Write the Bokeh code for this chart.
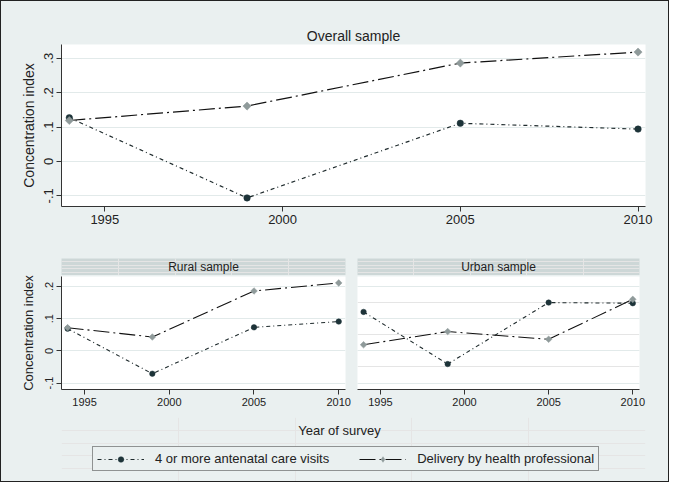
import numpy as np
from bokeh.plotting import figure
from bokeh.models import Range1d, FixedTicker, Legend, LegendItem, Label, Grid
from bokeh.layouts import column, row
from bokeh.embed import file_html
from bokeh.resources import INLINE

# ---- data ----
years = [1994, 1999, 2005, 2010]
overall_anc = [0.127, -0.106, 0.111, 0.094]
overall_delivery = [0.119, 0.161, 0.286, 0.318]
rural_anc = [0.069, -0.071, 0.073, 0.091]
rural_delivery = [0.072, 0.043, 0.186, 0.211]
urban_anc = [0.121, -0.041, 0.150, 0.148]
urban_delivery = [0.019, 0.060, 0.036, 0.160]

x_ticks = [1995, 2000, 2005, 2010]
y_ticks_top = [-0.1, 0, 0.1, 0.2, 0.3]
y_labels_top = ["-.1", "0", ".1", ".2", ".3"]
y_ticks_bottom = [-0.1, 0, 0.1, 0.2]
y_labels_bottom = ["-.1", "0", ".1", ".2"]

series_names = ["4 or more antenatal care visits", "Delivery by health professional"]
panel_titles = ["Overall sample", "Rural sample", "Urban sample"]
x_title = "Year of survey"
y_title = "Concentration index"

# ---- styles ----
FONT = "Liberation Sans"
BG = "#eaf0f0"
STRIP = "#cdd7d7"
GRID = "#e2eaea"
AXIS = "#333333"
ANC_LINE = "#1f2b2d"
ANC_MARK = "#1d3338"
DEL_LINE = "#111111"
DEL_MARK = "#8f9a9a"
ANC_DASH = "4 3 1 3"
DEL_DASH = "16 4 2 4"
BOX_STYLE = {"background-color": BG}


def base_style(p, tick_size, label_size, ylabels=None, yticks=None):
    p.background_fill_color = "white"
    p.border_fill_color = BG
    p.outline_line_color = None
    p.xgrid.visible = False
    for ax in p.xaxis:
        ax.ticker = FixedTicker(ticks=x_ticks)
        ax.major_label_text_font = FONT
        ax.major_label_text_font_size = tick_size
        ax.major_label_text_color = "#222222"
        ax.axis_line_color = AXIS
        ax.major_tick_line_color = AXIS
        ax.major_tick_out = 5
        ax.major_tick_in = 0
        ax.minor_tick_line_color = None
        ax.major_label_standoff = 3
    for ax in p.yaxis:
        ax.ticker = FixedTicker(ticks=yticks)
        ax.major_label_overrides = dict(zip(yticks, ylabels))
        ax.major_label_orientation = "vertical"
        ax.major_label_text_font = FONT
        ax.major_label_text_font_size = tick_size
        ax.major_label_text_color = "#222222"
        ax.axis_line_color = AXIS
        ax.major_tick_line_color = AXIS
        ax.major_tick_out = 5
        ax.major_tick_in = 0
        ax.minor_tick_line_color = None
        ax.major_label_standoff = 3
        ax.axis_label = y_title
        ax.axis_label_text_font = FONT
        ax.axis_label_text_font_size = label_size
        ax.axis_label_text_font_style = "normal"
        ax.axis_label_text_color = "#222222"


def draw_series(p, anc, dlv, lw, csize, dsize):
    p.line(years, anc, line_color=ANC_LINE, line_width=lw, line_dash=ANC_DASH)
    p.scatter(years, anc, marker="circle", size=csize, fill_color=ANC_MARK,
              line_color=ANC_MARK, line_width=0.5)
    p.line(years, dlv, line_color=DEL_LINE, line_width=lw, line_dash=DEL_DASH)
    p.scatter(years, dlv, marker="square", angle=np.pi / 4, size=dsize,
              fill_color=DEL_MARK, line_color=DEL_MARK, line_width=0.5)


# ---- top panel ----
top = figure(width=667, height=257, x_range=Range1d(1993.78, 2010.21),
             y_range=Range1d(-0.131, 0.34), output_backend="svg",
             toolbar_location=None, min_border_left=60, min_border_right=23,
             min_border_top=43, min_border_bottom=52, title=panel_titles[0],
             styles=BOX_STYLE)
top.title.text_font = FONT
top.title.text_font_size = "14px"
top.title.text_font_style = "normal"
top.title.text_color = "#222222"
top.title.align = "center"
top.title.standoff = 2
base_style(top, "13px", "14px", y_labels_top, y_ticks_top)
top.ygrid.ticker = FixedTicker(ticks=y_ticks_top)
top.ygrid.grid_line_color = GRID
top.yaxis.axis_label_standoff = 5
draw_series(top, overall_anc, overall_delivery, 1.2, 6.5, 5.8)


# ---- strips ----
def strip(width, left, right, text):
    s = figure(width=width, height=17, x_range=Range1d(0, 1), y_range=Range1d(0, 1),
               output_backend="svg", toolbar_location=None,
               x_axis_location=None, y_axis_location=None,
               min_border_left=left, min_border_right=right,
               min_border_top=0, min_border_bottom=0, styles=BOX_STYLE)
    s.background_fill_color = STRIP
    s.border_fill_color = None
    s.outline_line_color = None
    s.add_layout(Label(x=0.5, y=0.5, text=text, text_align="center",
                       text_baseline="middle", text_font=FONT,
                       text_font_size="12px", text_color="#222222"))
    return s


strip_r = strip(350, 60, 6, panel_titles[1])
strip_u = strip(317, 6, 29, panel_titles[2])

# ---- bottom panels ----
rural = figure(width=350, height=142, x_range=Range1d(1993.64, 2010.4),
               y_range=Range1d(-0.12, 0.231), output_backend="svg",
               toolbar_location=None, min_border_left=60, min_border_right=6,
               min_border_top=1, min_border_bottom=28, styles=BOX_STYLE)
base_style(rural, "11px", "13px", y_labels_bottom, y_ticks_bottom)
rural.ygrid.ticker = FixedTicker(ticks=y_ticks_bottom)
rural.ygrid.grid_line_color = GRID
rural.yaxis.axis_label_standoff = 7
draw_series(rural, rural_anc, rural_delivery, 1.1, 5.5, 4.7)

urban = figure(width=317, height=142, x_range=Range1d(1993.64, 2010.4),
               y_range=Range1d(-0.12, 0.231), output_backend="svg",
               toolbar_location=None, min_border_left=6, min_border_right=29,
               min_border_top=1, min_border_bottom=28, y_axis_location=None,
               styles=BOX_STYLE)
base_style(urban, "11px", "13px", y_labels_bottom, y_ticks_bottom)
urban.add_layout(Grid(dimension=1, ticker=FixedTicker(ticks=y_ticks_bottom),
                      grid_line_color=GRID))
draw_series(urban, urban_anc, urban_delivery, 1.1, 5.5, 4.7)

# ---- x title + legend ----
leg = figure(width=667, height=64, x_range=Range1d(0, 1), y_range=Range1d(0, 1),
             output_backend="svg", toolbar_location=None,
             x_axis_location=None, y_axis_location=None,
             min_border_left=60, min_border_right=23, min_border_top=0, min_border_bottom=0,
             styles=BOX_STYLE)
leg.background_fill_color = None
leg.border_fill_color = None
leg.outline_line_color = None
l1 = leg.line(years, overall_anc, line_color=ANC_LINE, line_width=1.1, line_dash=ANC_DASH)
s1 = leg.scatter(years, overall_anc, marker="circle", size=6, fill_color=ANC_MARK,
                 line_color=ANC_MARK, line_width=0.5)
l2 = leg.line(years, overall_delivery, line_color=DEL_LINE, line_width=1.1, line_dash=DEL_DASH)
s2 = leg.scatter(years, overall_delivery, marker="diamond", size=8.5,
                 fill_color=DEL_MARK, line_color=DEL_MARK, line_width=0.5)
legend = Legend(items=[LegendItem(label=series_names[0], renderers=[l1, s1]),
                       LegendItem(label=series_names[1], renderers=[l2, s2])],
                orientation="horizontal", location=(31, 10),
                label_text_font=FONT, label_text_font_size="13px",
                label_text_color="#222222",
                glyph_width=47, glyph_height=14, label_height=14,
                label_standoff=11, spacing=30, padding=4, margin=0,
                border_line_color=AXIS, border_line_width=1,
                background_fill_color=BG, background_fill_alpha=1)
leg.add_layout(legend)
leg.add_layout(Label(x=278, y=51, x_units="screen", y_units="screen",
                     text=x_title, text_align="center", text_baseline="middle",
                     text_font=FONT, text_font_size="13px", text_color="#222222"))

layout = column(top,
                row(column(strip_r, rural, spacing=0, styles=BOX_STYLE),
                    column(strip_u, urban, spacing=0, styles=BOX_STYLE),
                    spacing=0, styles=BOX_STYLE),
                leg, spacing=0,
                styles={"border": "1px solid #222222", "background-color": BG})

open("out.html", "w").write(file_html(layout, INLINE))
